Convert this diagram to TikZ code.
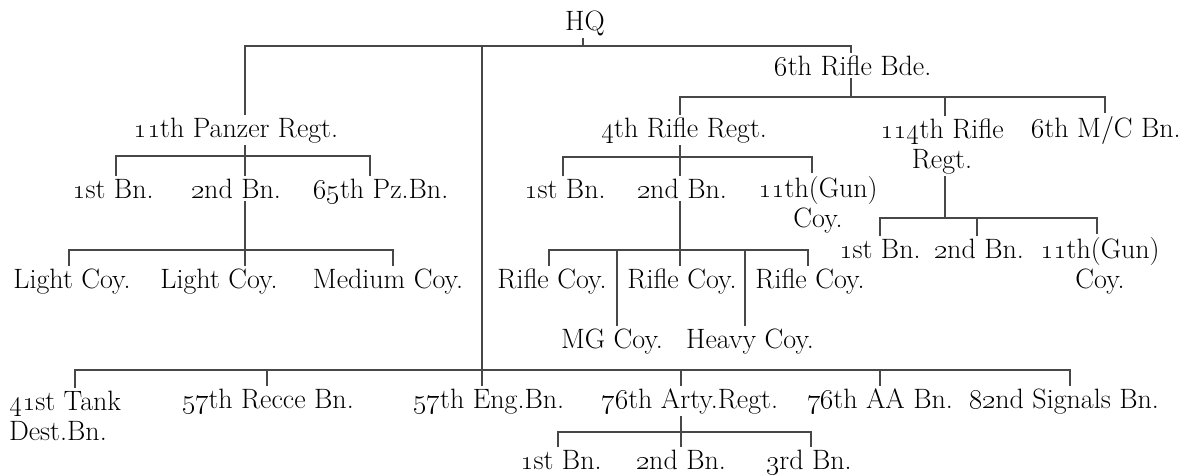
\RequirePackage{fix-cm}
\documentclass[tikz,border=0pt]{standalone}
\usepackage{tikz}

\newcommand{\os}[1]{\oldstylenums{#1}}

\tikzset{
  unit/.style={anchor=base, inner sep=2pt, text=black, font=\fontsize{28}{30}\selectfont},
  pair/.style={unit, align=center},
}

\begin{document}
\begin{tikzpicture}[x=1pt, y=-1pt, color=black!72, line width=1.2pt]
    \useasboundingbox (0,0) rectangle (1180,474);

    % Headquarters and brigade
    \node[unit] (hq) at (585,30) {HQ};
    \node[unit] (bde) at (853,75) {\os{6}th Rifle Bde.};

    % Regiments (two-line labels sit on their last line)
    \node[unit] (pzr) at (236,137) {\os{11}th Panzer Regt.};
    \node[unit] (rr4) at (684,137) {\os{4}th Rifle Regt.};
    \node[pair] (rr114) at (942,168) {\os{114}th Rifle\\Regt.};
    \node[unit] (mc6) at (1106,137) {\os{6}th M/C Bn.};

    % Battalions
    \node[unit] (pb1) at (113,198) {\os{1}st Bn.};
    \node[unit] (pb2) at (236,198) {\os{2}nd Bn.};
    \node[unit] (pb3) at (381,198) {\os{65}th Pz.Bn.};
    \node[unit] (fb1) at (565,198) {\os{1}st Bn.};
    \node[unit] (fb2) at (682,198) {\os{2}nd Bn.};
    \node[pair] (fb3) at (818,227) {\os{11}th(Gun)\\Coy.};
    \node[unit] (cb1) at (880,258) {\os{1}st Bn.};
    \node[unit] (cb2) at (979,258) {\os{2}nd Bn.};
    \node[pair] (cb3) at (1100,288) {\os{11}th(Gun)\\Coy.};

    % Companies
    \node[unit] (lc1) at (72,288) {Light Coy.};
    \node[unit] (lc2) at (219,288) {Light Coy.};
    \node[unit] (lc3) at (388,288) {Medium Coy.};
    \node[unit] (rc1) at (552,288) {Rifle Coy.};
    \node[unit] (rc2) at (682,288) {Rifle Coy.};
    \node[unit] (rc3) at (810,288) {Rifle Coy.};
    \node[unit] (mg) at (612,348) {MG Coy.};
    \node[unit] (hv) at (750,348) {Heavy Coy.};

    % Divisional troops
    \node[unit, align=left] (tank) at (65,440) {\os{41}st Tank\\Dest.Bn.};
    \node[unit] (recce) at (268,408) {\os{57}th Recce Bn.};
    \node[unit] (eng) at (489,408) {\os{57}th Eng.Bn.};
    \node[unit] (arty) at (690,408) {\os{76}th Arty.Regt.};
    \node[unit] (aa) at (880,408) {\os{76}th AA Bn.};
    \node[unit] (sig) at (1064,408) {\os{82}nd Signals Bn.};
    \node[unit] (ab1) at (561,469) {\os{1}st Bn.};
    \node[unit] (ab2) at (681,469) {\os{2}nd Bn.};
    \node[unit] (ab3) at (809,469) {\os{3}rd Bn.};

    % Bar points
    \coordinate (tH) at (583,46);
    \coordinate (tL) at (245,46);
    \coordinate (tM) at (482,46);
    \coordinate (tR) at (851,46);
    \coordinate (bL) at (680,97);
    \coordinate (bM) at (945,97);
    \coordinate (bR) at (1105,97);
    \coordinate (pL) at (116,156);
    \coordinate (pM) at (245,156);
    \coordinate (pR) at (370,156);
    \coordinate (fL) at (563,157);
    \coordinate (fM) at (680,157);
    \coordinate (fR) at (812,157);
    \coordinate (cL) at (880,218);
    \coordinate (cJ) at (945,218);
    \coordinate (cM) at (977,218);
    \coordinate (cR) at (1097,218);
    \coordinate (lL) at (69,250);
    \coordinate (lM) at (245,250);
    \coordinate (lR) at (393,250);
    \coordinate (rL) at (549,250);
    \coordinate (rG) at (617,250);
    \coordinate (rM) at (680,250);
    \coordinate (rH) at (745,250);
    \coordinate (rR) at (808,250);
    \coordinate (dL) at (75,370);
    \coordinate (dR) at (267,370);
    \coordinate (dA) at (681,370);
    \coordinate (dB) at (880,370);
    \coordinate (dS) at (1070,370);
    \coordinate (aL) at (558,432);
    \coordinate (aM) at (681,432);
    \coordinate (aR) at (811,432);

    % HQ level
    \draw (hq.south -| tH) -- (tH);
    \draw (pzr.north -| tL) |- (tR) -- (bde.north -| tR);
    \draw (tM) -- (eng.north -| tM);

    % Brigade
    \draw (bde.south -| tR) -- (tR |- bL);
    \draw (rr4.north -| bL) |- (bR) -- (mc6.north -| bR);
    \draw (bM) -- (rr114.north -| bM);

    % Panzer regiment
    \draw (pzr.south -| pM) -- (pb2.north -| pM);
    \draw (pb1.north -| pL) |- (pR) -- (pb3.north -| pR);
    \draw (pb2.south -| lM) -- (lc2.north -| lM);
    \draw (lc1.north -| lL) |- (lR) -- (lc3.north -| lR);

    % 4th Rifle regiment
    \draw (rr4.south -| fM) -- (fb2.north -| fM);
    \draw (fb1.north -| fL) |- (fR) -- (fb3.north -| fR);
    \draw (fb2.south -| rM) -- (rc2.north -| rM);
    \draw (rc1.north -| rL) |- (rR) -- (rc3.north -| rR);
    \draw (rG) -- (mg.north -| rG);
    \draw (rH) -- (hv.north -| rH);

    % 114th Rifle regiment
    \draw (rr114.south -| cJ) -- (cJ);
    \draw (cb1.north -| cL) |- (cR) -- (cb3.north -| cR);
    \draw (cM) -- (cb2.north -| cM);

    % Divisional troops
    \draw (tank.north -| dL) |- (dS) -- (sig.north -| dS);
    \draw (dR) -- (recce.north -| dR);
    \draw (dA) -- (arty.north -| dA);
    \draw (dB) -- (aa.north -| dB);
    \draw (arty.south -| aM) -- (ab2.north -| aM);
    \draw (ab1.north -| aL) |- (aR) -- (ab3.north -| aR);
\end{tikzpicture}
\end{document}
